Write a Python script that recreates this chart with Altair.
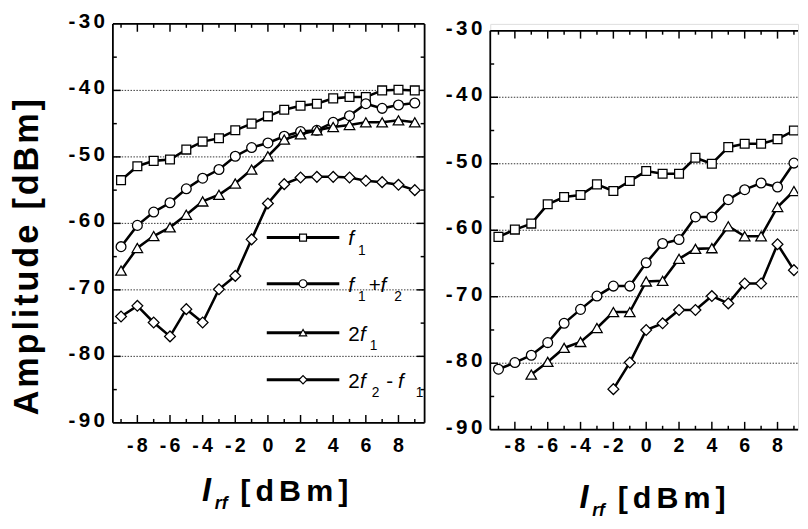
import altair as alt
import pandas as pd

# ---------------- data ----------------
x_all = list(range(-9, 10))

left_f1 = [-53.5, -51.4, -50.6, -50.4, -48.9, -47.7, -47.2, -46.0, -45.0, -43.9,
           -42.9, -42.3, -42.0, -41.2, -41.0, -41.0, -40.0, -39.9, -40.0]
left_f1f2 = [-63.5, -60.3, -58.3, -56.9, -54.8, -53.2, -51.9, -49.9, -48.6, -47.9,
             -46.9, -46.2, -46.0, -44.8, -43.8, -42.0, -42.7, -42.2, -41.9]
left_2f1 = [-67.1, -63.7, -61.9, -60.6, -58.7, -56.7, -55.7, -54.0, -51.9, -49.9,
            -47.4, -46.6, -46.0, -45.5, -45.2, -44.8, -44.8, -44.5, -44.8]
left_2f2f1 = [-74.0, -72.4, -74.9, -77.0, -72.9, -74.9, -69.9, -67.9, -62.4, -57.0,
              -54.1, -53.1, -53.0, -53.0, -53.1, -53.6, -53.8, -54.2, -55.0]

right_x_f1 = list(range(-9, 10))
right_f1 = [-61.0, -59.9, -59.0, -56.1, -55.0, -54.7, -53.1, -54.1, -52.6, -51.1,
            -51.5, -51.5, -49.1, -50.0, -47.5, -47.0, -47.0, -46.3, -45.0]
right_x_f1f2 = list(range(-9, 10))
right_f1f2 = [-80.9, -79.9, -78.8, -76.9, -74.0, -71.9, -69.9, -68.4, -68.4, -64.9,
              -62.0, -61.4, -58.0, -58.0, -55.4, -53.9, -52.9, -53.5, -49.9]
right_x_2f1 = list(range(-7, 10))
right_2f1 = [-81.7, -79.8, -77.7, -76.8, -74.7, -72.3, -72.3, -67.7, -67.6, -64.3,
             -62.8, -62.7, -59.4, -60.9, -60.9, -56.5, -54.1]
right_x_2f2f1 = list(range(-2, 10))
right_2f2f1 = [-83.9, -79.9, -75.0, -74.0, -72.0, -72.0, -69.9, -71.0, -68.0, -68.0,
               -62.1, -66.0]

series_names = ["f1", "f1+f2", "2f1", "2f2-f1"]
series_shapes = ["square", "circle", "triangle-up", "diamond"]
series_sizes = [81, 100, 115, 121]

x_tick_labels = [-8, -6, -4, -2, 0, 2, 4, 6, 8]
y_tick_labels = [-90, -80, -70, -60, -50, -40, -30]
grid_values = [-40, -50, -60, -70, -80]
x_major = [-8, -6, -4, -2, 0, 2, 4, 6, 8]
x_minor = [-9, -7, -5, -3, -1, 1, 3, 5, 7, 9]
y_major = [-80, -70, -60, -50, -40]
y_minor = [-85, -75, -65, -55, -45, -35]

# ---------------- layout ----------------
W_L, W_R = 318, 314
XDOM_L = [-9.5, 9.6]
XDOM_R = [-9.5, 9.25]
YDOM = [-90, -30]
FONT = "Liberation Sans"
HS = "\u200a"
one = pd.DataFrame({"a": [0]})


def spaced(s, n=2):
    return (HS * n).join(list(s))


def txt(s, x, y, size, weight="normal", style="normal", align="left",
        baseline="alphabetic", angle=0):
    kw = dict(text=s, fontSize=size, fontWeight=weight, fontStyle=style,
              align=align, baseline=baseline, font=FONT, color="black")
    if angle:
        kw["angle"] = angle
    return alt.Chart(one).mark_text(**kw).encode(x=alt.value(x), y=alt.value(y))


def panel(series, width, xdom, top, legend=False, ytitle=False, right_frame=True):
    H = 407
    bot = top + H
    xs = alt.Scale(domain=xdom, nice=False, zero=False)
    ys = alt.Scale(domain=YDOM, nice=False, zero=False, range=[bot, top])
    layers = []

    # grid lines
    layers.append(
        alt.Chart(pd.DataFrame({"g": grid_values})).mark_rule(
            color="#333333", strokeWidth=1, strokeDash=[1.5, 1.5]
        ).encode(y=alt.Y("g:Q", scale=ys, axis=None), x=alt.value(0), x2=alt.value(width))
    )
    # tick labels
    ylab = pd.DataFrame({"v": y_tick_labels, "t": [spaced(str(v)) for v in y_tick_labels]})
    layers.append(alt.Chart(ylab).mark_text(
        align="right", baseline="alphabetic", dy=4, fontSize=21, fontWeight="bold",
        font=FONT, color="black").encode(
        y=alt.Y("v:Q", scale=ys, axis=None), x=alt.value(-8), text="t:N"))
    xlab = pd.DataFrame({"v": x_tick_labels, "t": [spaced(str(v)) for v in x_tick_labels]})
    layers.append(alt.Chart(xlab).mark_text(
        align="center", baseline="alphabetic", fontSize=20, fontWeight="bold",
        font=FONT, color="black").encode(
        x=alt.X("v:Q", scale=xs, axis=None), y=alt.value(437), text="t:N"))

    # ticks (inside)
    for vals, ln in ((x_major, 8), (x_minor, 4)):
        d = pd.DataFrame({"t": vals})
        layers.append(alt.Chart(d).mark_rule(color="black", strokeWidth=1.5).encode(
            x=alt.X("t:Q", scale=xs, axis=None), y=alt.value(bot), y2=alt.value(bot - ln)))
        layers.append(alt.Chart(d).mark_rule(color="black", strokeWidth=1.5).encode(
            x=alt.X("t:Q", scale=xs, axis=None), y=alt.value(top), y2=alt.value(top + ln)))
    for vals, ln in ((y_major, 8), (y_minor, 4)):
        d = pd.DataFrame({"t": vals})
        layers.append(alt.Chart(d).mark_rule(color="black", strokeWidth=1.5).encode(
            y=alt.Y("t:Q", scale=ys, axis=None), x=alt.value(0), x2=alt.value(ln)))
        if right_frame:
            layers.append(alt.Chart(d).mark_rule(color="black", strokeWidth=1.5).encode(
                y=alt.Y("t:Q", scale=ys, axis=None), x=alt.value(width), x2=alt.value(width - ln)))

    # frame
    fr = dict(color="black", strokeWidth=1.8)
    layers.append(alt.Chart(one).mark_rule(**fr).encode(x=alt.value(0), x2=alt.value(width), y=alt.value(top)))
    layers.append(alt.Chart(one).mark_rule(**fr).encode(x=alt.value(0), x2=alt.value(width), y=alt.value(bot)))
    layers.append(alt.Chart(one).mark_rule(**fr).encode(x=alt.value(0), y=alt.value(top), y2=alt.value(bot)))
    if right_frame:
        layers.append(alt.Chart(one).mark_rule(**fr).encode(x=alt.value(width), y=alt.value(top), y2=alt.value(bot)))

    # data series
    for (xv, yv), shp, sz in zip(series, series_shapes, series_sizes):
        d = pd.DataFrame({"x": xv, "y": yv})
        enc = dict(x=alt.X("x:Q", scale=xs, axis=None), y=alt.Y("y:Q", scale=ys, axis=None))
        layers.append(alt.Chart(d).mark_line(color="black", strokeWidth=2.6, clip=True).encode(**enc))
        layers.append(alt.Chart(d).mark_point(shape=shp, size=sz, filled=True, fill="white",
                                              stroke="black", strokeWidth=1.3, opacity=1,
                                              clip=True).encode(**enc))

    # legend
    if legend:
        rows = [218, 265, 315, 363]
        lsz = [50, 64, 55, 70]
        for r, shp, sz in zip(rows, series_shapes, lsz):
            layers.append(alt.Chart(one).mark_rule(color="black", strokeWidth=3).encode(
                x=alt.value(157), x2=alt.value(231), y=alt.value(r)))
            layers.append(alt.Chart(one).mark_point(shape=shp, size=sz, filled=True, fill="white",
                                                    stroke="black", strokeWidth=1.2, opacity=1).encode(
                x=alt.value(194), y=alt.value(r)))
        tx = 240
        layers += [
            txt("f", tx, rows[0] + 8, 21, style="italic"),
            txt("1", tx + 10, rows[0] + 18, 14),
            txt("f", tx, rows[1] + 8, 21, style="italic"),
            txt("1", tx + 10, rows[1] + 18, 14),
            txt("+", tx + 21, rows[1] + 8, 21),
            txt("f", tx + 33, rows[1] + 8, 21, style="italic"),
            txt("2", tx + 47, rows[1] + 18, 14),
            txt("2", tx, rows[2] + 8, 21),
            txt("f", tx + 12, rows[2] + 8, 21, style="italic"),
            txt("1", tx + 22, rows[2] + 18, 14),
            txt("2", tx, rows[3] + 8, 21),
            txt("f", tx + 12, rows[3] + 8, 21, style="italic"),
            txt("2", tx + 24, rows[3] + 18, 14),
            txt("-", tx + 39, rows[3] + 8, 21),
            txt("f", tx + 51, rows[3] + 8, 21, style="italic"),
            txt("1", tx + 69, rows[3] + 18, 14),
        ]

    # x title
    layers += [
        txt("I", 91, top + 487, 33, weight="bold", style="italic"),
        txt("rf", 104, top + 495, 18, weight="bold", style="italic"),
        txt(spaced("[dBm]", 2), 130, top + 487, 31, weight="bold"),
    ]
    if ytitle:
        layers.append(txt(spaced("Amplitude [dBm]", 1), -87, 238, 35, weight="bold",
                          align="center", baseline="middle", angle=270))

    return alt.layer(*layers).properties(width=width, height=bot)


left = panel([(x_all, left_f1), (x_all, left_f1f2), (x_all, left_2f1), (x_all, left_2f2f1)],
             W_L, XDOM_L, 0, legend=True, ytitle=True)
right = panel([(right_x_f1, right_f1), (right_x_f1f2, right_f1f2), (right_x_2f1, right_2f1),
               (right_x_2f2f1, right_2f2f1)],
              W_R, XDOM_R, 7, right_frame=False)

chart = alt.hconcat(left, right, spacing=19).properties(
    padding={"left": 2, "top": -3, "right": 0, "bottom": 0}
).configure_view(stroke=None).configure(background="white")

chart.save("out.html", embed_options={"renderer": "svg", "actions": False})
